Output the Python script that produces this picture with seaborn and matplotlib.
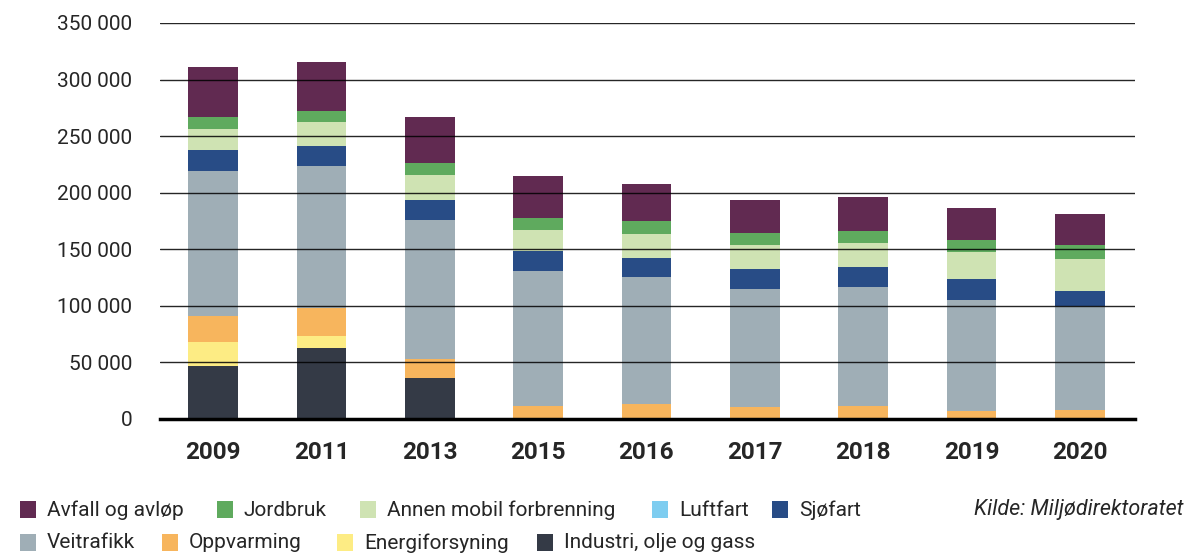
import matplotlib
matplotlib.use("Agg")
import matplotlib.pyplot as plt
from matplotlib.patches import Rectangle
from matplotlib.ticker import FuncFormatter
import numpy as np
import pandas as pd
import seaborn as sns

years = ["2009", "2011", "2013", "2015", "2016", "2017", "2018", "2019", "2020"]

# stacked from bottom to top
industri = [47000, 63000, 36000, 0, 0, 0, 0, 0, 0]
energiforsyning = [21000, 10500, 0, 0, 0, 0, 0, 0, 0]
oppvarming = [23000, 25000, 17000, 11500, 13000, 10500, 11500, 7000, 8000]
veitrafikk = [128000, 125000, 123000, 119000, 112500, 104500, 105000, 98000, 92000]
luftfart = [0, 0, 0, 0, 0, 0, 0, 0, 0]
sjofart = [19000, 17500, 17500, 18000, 17000, 18000, 18000, 18500, 13000]
annen_mobil = [18500, 21500, 22000, 18500, 21000, 20500, 21000, 24000, 28500]
jordbruk = [10000, 9500, 10500, 10500, 11500, 10500, 10500, 10500, 12500]
avfall = [45000, 43500, 41000, 37000, 33000, 30000, 30000, 28500, 27000]

series = [
    ("Industri, olje og gass", industri, "#343a46"),
    ("Energiforsyning", energiforsyning, "#fdec84"),
    ("Oppvarming", oppvarming, "#f7b55d"),
    ("Veitrafikk", veitrafikk, "#9faeb6"),
    ("Luftfart", luftfart, "#7ecdf0"),
    ("Sjøfart", sjofart, "#284c86"),
    ("Annen mobil forbrenning", annen_mobil, "#cfe3b3"),
    ("Jordbruk", jordbruk, "#5faa5e"),
    ("Avfall og avløp", avfall, "#612a51"),
]

legend_rows = [
    ["Avfall og avløp", "Jordbruk", "Annen mobil forbrenning", "Luftfart", "Sjøfart"],
    ["Veitrafikk", "Oppvarming", "Energiforsyning", "Industri, olje og gass"],
]

sns.set_theme(style="white")
plt.rcParams["font.family"] = ["Roboto", "DejaVu Sans"]

fig = plt.figure(figsize=(11.89, 5.56), dpi=100)
ax = fig.add_axes([160 / 1189, 1 - 419 / 556, 975 / 1189, 396 / 556])

bottom = np.zeros(len(years))
for name, vals, color in series:
    df = pd.DataFrame({"year": years, "value": vals})
    sns.barplot(data=df, x="year", y="value", order=years, color=color,
                saturation=1, width=0.46, errorbar=None, bottom=bottom,
                linewidth=0, ax=ax)
    bottom = bottom + np.array(vals)

ax.set_xlim(-0.49, 8.51)
ax.set_ylim(0, 350000)
ax.set_yticks(np.arange(0, 350001, 50000))
ax.yaxis.set_major_formatter(FuncFormatter(lambda v, p: f"{v:,.0f}".replace(",", " ")))
ax.set_xlabel("")
ax.set_ylabel("")
ax.grid(axis="y", color="black", linewidth=1.0, alpha=0.85)
ax.grid(axis="x", visible=False)
ax.set_axisbelow(False)
for s in ["top", "right", "left"]:
    ax.spines[s].set_visible(False)
ax.spines["bottom"].set_color("black")
ax.spines["bottom"].set_linewidth(2.5)
ax.tick_params(axis="y", length=0, pad=20, labelsize=15)
ax.tick_params(axis="x", length=0, pad=16, labelsize=17.5)
for t in ax.get_xticklabels():
    t.set_fontweight("bold")

colors = {n: c for n, _, c in series}
row_x = [
    [20, 217, 360, 652, 772],
    [20, 162, 337, 537],
]
row_y = [510, 543]
for labels, xs, y in zip(legend_rows, row_x, row_y):
    for lab, x in zip(labels, xs):
        fig.add_artist(Rectangle((x / 1189, 1 - (y + 8) / 556), 16 / 1189, 17 / 556,
                                 transform=fig.transFigure, color=colors[lab], lw=0))
        fig.text((x + 27) / 1189, 1 - y / 556, lab, fontsize=15, va="center", ha="left")

fig.text(1183 / 1189, 1 - 510 / 556, "Kilde: Miljødirektoratet", fontsize=15.5,
         style="italic", va="center", ha="right")

fig.savefig("out.png", dpi=100)
